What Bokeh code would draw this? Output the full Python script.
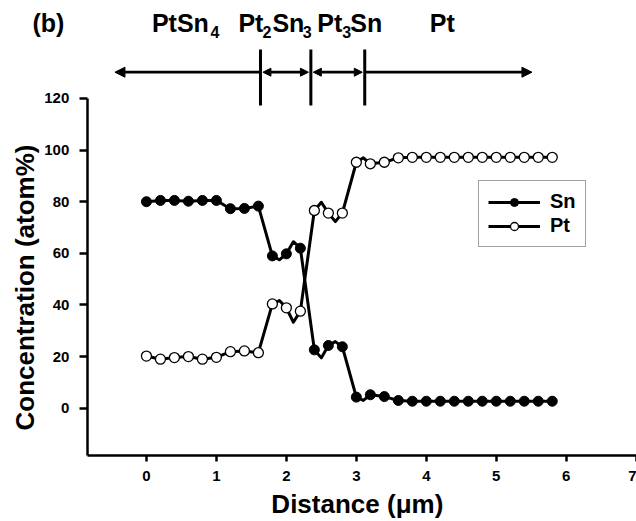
import math
from bokeh.plotting import figure
from bokeh.models import (ColumnDataSource, FixedTicker, Label, Legend, LegendItem,
                          Arrow, NormalHead)
from bokeh.embed import file_html
from bokeh.resources import INLINE

# ---------------- data ----------------
distance = [0.0, 0.2, 0.4, 0.6, 0.8, 1.0, 1.2, 1.4, 1.6,
            1.8, 1.9, 2.0, 2.1, 2.2,
            2.4, 2.5, 2.6, 2.7, 2.8,
            3.0, 3.1, 3.2, 3.4, 3.6,
            3.8, 4.0, 4.2, 4.4, 4.6, 4.8, 5.0, 5.2, 5.4, 5.6, 5.8]
marked = [True] * 9 + [True, False, True, False, True] + \
         [True, False, True, False, True] + [True, False, True, True, True] + [True] * 11
sn = [80.0, 80.5, 80.5, 80.2, 80.5, 80.5, 77.3, 77.4, 78.3,
      59.0, 57.5, 59.8, 64.5, 62.0,
      22.6, 19.5, 24.3, 25.8, 23.8,
      4.3, 3.0, 5.2, 4.5, 3.0,
      2.7, 2.7, 2.7, 2.7, 2.7, 2.7, 2.7, 2.7, 2.7, 2.7, 2.7]
pt = [20.2, 19.0, 19.6, 20.0, 19.0, 19.7, 21.9, 22.2, 21.5,
      40.4, 41.7, 38.9, 33.3, 37.6,
      76.6, 79.8, 75.6, 72.3, 75.6,
      95.3, 97.0, 94.7, 95.3, 97.0,
      97.2, 97.2, 97.2, 97.2, 97.2, 97.2, 97.2, 97.2, 97.2, 97.2, 97.2]
x_ticks = [0, 1, 2, 3, 4, 5, 6, 7]
y_ticks = [0, 20, 40, 60, 80, 100, 120]
x_axis_span = (-0.845, 7.0)
y_axis_span = (-18.3, 120)
phase_bounds = [1.63, 2.35, 3.12]      # PtSn4 | Pt2Sn3 | Pt3Sn | Pt
arrow_extent = [-0.45, 5.51]

# ---------------- layout helpers (page px -> data) ----------------
W, H = 636, 521

def sx(px):
    return (px - 146.0) / 70.0

def sy(py):
    return (407.7 - py) / 2.581

FONT = "Liberation Sans"

p = figure(width=W, height=H, x_range=(sx(0), sx(W) + 0.004), y_range=(sy(H), sy(0)),
           min_border=0, min_border_left=0, min_border_right=0, min_border_top=0,
           min_border_bottom=0, output_backend="svg", toolbar_location=None)
p.outline_line_color = None
p.xgrid.visible = False
p.ygrid.visible = False
p.background_fill_color = "white"
p.border_fill_color = "white"

for ax in (p.xaxis, p.yaxis):
    ax.axis_line_width = 2.5
    ax.axis_line_color = "black"
    ax.major_tick_line_width = 2.5
    ax.major_tick_line_color = "black"
    ax.minor_tick_line_color = None
    ax.major_tick_in = 0
    ax.major_label_text_font = FONT
    ax.major_label_text_font_style = "bold"
    ax.major_label_text_font_size = "15px"
    ax.major_label_text_color = "black"
p.xaxis.ticker = FixedTicker(ticks=x_ticks)
p.yaxis.ticker = FixedTicker(ticks=y_ticks)
p.xaxis.major_tick_out = 6
p.yaxis.major_tick_out = 8
p.xaxis.major_label_standoff = 10
p.yaxis.major_label_standoff = 10
p.xaxis.bounds = x_axis_span
p.yaxis.bounds = y_axis_span
p.xaxis.fixed_location = y_axis_span[0]
p.yaxis.fixed_location = x_axis_span[0]

src = ColumnDataSource(dict(x=distance, sn=sn, pt=pt))
msrc = ColumnDataSource(dict(
    x=[d for d, m in zip(distance, marked) if m],
    sn=[v for v, m in zip(sn, marked) if m],
    pt=[v for v, m in zip(pt, marked) if m]))

sn_line = p.line("x", "sn", source=src, line_width=3, line_color="black", line_join="round")
pt_line = p.line("x", "pt", source=src, line_width=3, line_color="black", line_join="round")
sn_pts = p.scatter("x", "sn", source=msrc, marker="circle", size=10,
                   fill_color="black", line_color="black", line_width=1)
pt_pts = p.scatter("x", "pt", source=msrc, marker="circle", size=10,
                   fill_color="white", line_color="black", line_width=1.3)

legend = Legend(items=[LegendItem(label="Sn", renderers=[sn_line, sn_pts]),
                       LegendItem(label="Pt", renderers=[pt_line, pt_pts])],
                location=(478, H - 247), glyph_width=52, glyph_height=20, label_height=20,
                spacing=1, padding=9, label_standoff=10, margin=0,
                border_line_color="#444444", border_line_width=1.5,
                background_fill_color="white", background_fill_alpha=1,
                label_text_font=FONT, label_text_font_style="bold",
                label_text_font_size="20px", label_text_color="black")
p.add_layout(legend)

# phase arrows
y_arrow = sy(71.7)
gap = 0.035
single = ColumnDataSource(dict(x0=[phase_bounds[0], phase_bounds[2]],
                               x1=[arrow_extent[0], arrow_extent[1]],
                               y0=[y_arrow, y_arrow], y1=[y_arrow, y_arrow]))
p.add_layout(Arrow(end=NormalHead(size=10, fill_color="black", line_color="black"),
                   x_start="x0", y_start="y0", x_end="x1", y_end="y1",
                   source=single, line_width=2.8, line_color="black"))
double = ColumnDataSource(dict(x0=[phase_bounds[0] + gap, phase_bounds[1] + gap],
                               x1=[phase_bounds[1] - gap, phase_bounds[2] - gap],
                               y0=[y_arrow, y_arrow], y1=[y_arrow, y_arrow]))
p.add_layout(Arrow(start=NormalHead(size=8, fill_color="black", line_color="black"),
                   end=NormalHead(size=8, fill_color="black", line_color="black"),
                   x_start="x0", y_start="y0", x_end="x1", y_end="y1",
                   source=double, line_width=2.8, line_color="black"))
p.segment(x0=phase_bounds, y0=[sy(105)] * 3, x1=phase_bounds, y1=[sy(49)] * 3,
          line_width=3, line_color="black")

# texts: (text, anchor x px, baseline px, size px, rotated, align)
texts = [("(b)", 32, 31.7, 25, False, "left"),
         ("PtSn", 151.5, 31.7, 25, False, "left"), ("4", 210, 37.3, 16, False, "left"),
         ("Pt", 238, 31.7, 25, False, "left"), ("2", 262, 37.3, 16, False, "left"),
         ("Sn", 272, 31.7, 25, False, "left"), ("3", 302.5, 37.3, 16, False, "left"),
         ("Pt", 317, 31.7, 25, False, "left"), ("3", 342, 37.3, 16, False, "left"),
         ("Sn", 350, 31.7, 25, False, "left"),
         ("Pt", 429.5, 31.7, 25, False, "left"),
         ("Distance (\u03bcm)", 357, 513, 26, False, "center"),
         ("Concentration (atom%)", 35, 287, 26, True, "center")]
for t, px, py, fs, rot, al in texts:
    shift = 0.36 * fs   # empirical offset of Bokeh's alphabetic anchor
    if rot:
        lx, ly, ang = px - 0.42 * fs, py, math.pi / 2
    else:
        lx, ly, ang = px, py - shift, 0
    p.add_layout(Label(x=sx(lx), y=sy(ly), text=t, text_font=FONT, text_font_style="bold",
                       text_font_size=f"{fs}px", text_baseline="alphabetic", angle=ang,
                       text_align=al, text_color="black"))

open("out.html", "w").write(file_html(p, INLINE))
